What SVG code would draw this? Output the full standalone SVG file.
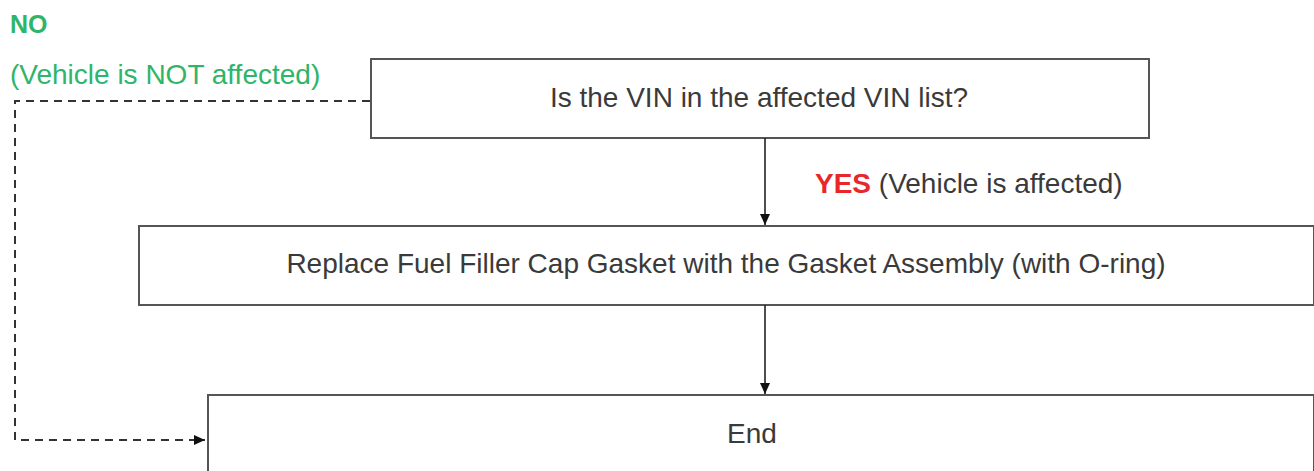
<svg xmlns="http://www.w3.org/2000/svg" width="1314" height="471" viewBox="0 0 1314 471">
<style>
.box{fill:#fff;stroke:#555;stroke-width:2}
.t{font-family:"Liberation Sans",Arial,sans-serif;font-size:28px;fill:#3a3a3a}
.c{text-anchor:middle}
.g{fill:#2fb56a}
.r{fill:#e8262b;font-weight:bold}
.line{stroke:#222;stroke-width:1.6;fill:none}
.dash{stroke:#333;stroke-width:2;fill:none;stroke-dasharray:8,6}
</style>
<defs>
<marker id="ah" markerWidth="12" markerHeight="12" refX="11" refY="6" orient="auto" markerUnits="userSpaceOnUse">
<path d="M0,1 L11,6 L0,11 Z" fill="#111"/>
</marker>
</defs>
<rect width="1314" height="471" fill="#fff"/>
<g id="labels">
<text class="t g" x="10" y="33" font-size="25" font-weight="bold" style="font-size:25px">NO</text>
<text class="t g" x="10" y="84">(Vehicle is NOT affected)</text>
<text class="t" x="815" y="193"><tspan class="r">YES</tspan> (Vehicle is affected)</text>
</g>
<g id="n1"><rect class="box" x="371" y="59" width="778" height="79"/><text class="t c" x="759" y="107">Is the VIN in the affected VIN list?</text></g>
<g id="n2"><rect class="box" x="139" y="226" width="1175" height="79"/><text class="t c" x="726" y="273">Replace Fuel Filler Cap Gasket with the Gasket Assembly (with O-ring)</text></g>
<g id="n3"><rect class="box" x="208" y="395" width="1106" height="80"/><text class="t c" x="752" y="443">End</text></g>
<g id="connectors">
<line class="line" x1="765" y1="138" x2="765" y2="225" marker-end="url(#ah)"/>
<line class="line" x1="765" y1="305" x2="765" y2="394" marker-end="url(#ah)"/>
<polyline class="dash" points="370,101 15,101 15,440 205,440" marker-end="url(#ah)"/>
</g>
</svg>
